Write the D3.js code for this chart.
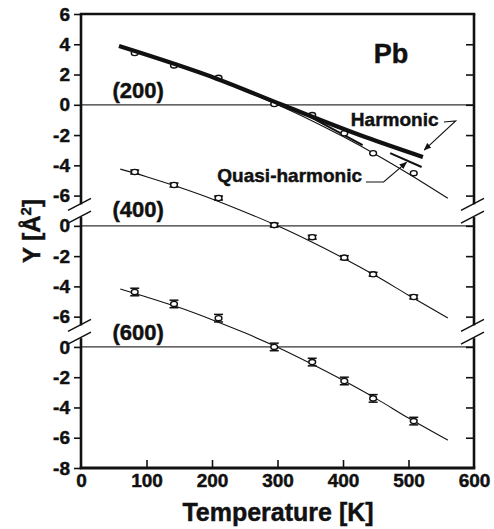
<!DOCTYPE html>
<html>
<head>
<meta charset="utf-8">
<script src="https://cdn.jsdelivr.net/npm/d3@7"></script>
<style>
  body { margin: 0; background: #fff; }
  svg { display: block; }
  text { font-family: "Liberation Sans", Arial, sans-serif; font-weight: bold; fill: #111; stroke: #111; stroke-width: 0.45px; }
</style>
</head>
<body>
<div id="chart"></div>
<script>
// temperatures of the measured points
var tempPoints = [82, 142, 210, 295, 353, 402, 446, 508];

// measured Y values, one array per reflection
var y200 = [3.42, 2.6, 1.78, 0.05, -0.68, -1.88, -3.2, -4.52];
var y400 = [3.56, 2.7, 1.84, 0.05, -0.75, -2.1, -3.2, -4.7];
var y600 = [3.63, 2.84, 1.9, 0.0, -1.0, -2.25, -3.4, -4.9];

// error bar half widths
var err200 = 0.06;
var err400 = 0.13;
var err600 = 0.25;

// fitted curves through the points
var fitTemps = [60, 100, 150, 200, 250, 300, 350, 400, 450, 500, 560];
var fit200 = [3.85, 3.32, 2.6, 1.8, 0.93, 0.0, -1.0, -2.1, -3.28, -4.55, -6.17];
var fit400 = [3.75, 3.25, 2.55, 1.78, 0.92, 0.0, -1.02, -2.12, -3.3, -4.58, -6.09];
var fit600 = [3.83, 3.3, 2.6, 1.8, 0.93, -0.02, -1.08, -2.2, -3.4, -4.7, -6.16];

// harmonic calculation (thick line)
var harmTemps = [58, 208, 307, 434, 522];
var harmVals = [3.88, 1.71, 0.0, -2.13, -3.45];

// quasi-harmonic calculation, visible parts
var quasiA = [[350, -0.79], [430, -2.66]];
var quasiB = [[472, -3.19], [520, -4.11]];

var panelLabels = ['(200)', '(400)', '(600)'];
var xTicks = [0, 100, 200, 300, 400, 500, 600];

var width = 494, height = 529;
var offset = 8;   // each panel is shifted down by 8 units

var svg = d3.select('#chart').append('svg')
  .attr('width', width)
  .attr('height', height);

var x = d3.scaleLinear().domain([0, 600]).range([81, 474]);
var y = d3.scaleLinear().domain([6, -24]).range([14, 468]);

// panel value -> y pixel
function py(panel, v) { return y(v - offset * panel); }

var line = d3.line().curve(d3.curveMonotoneX);

// zero lines
[0, 1, 2].forEach(function(p) {
  svg.append('line')
    .attr('x1', x(0)).attr('x2', x(600))
    .attr('y1', py(p, 0)).attr('y2', py(p, 0))
    .attr('stroke', '#333').attr('stroke-width', 1.3);
});

// left axis ticks and labels
var leftTicks = [6, 4, 2, 0, -2, -4, -6, -8, -10, -12, -14, -16, -18, -20, -22, -24];
var yAxis = d3.axisLeft(y)
  .tickValues(leftTicks)
  .tickSize(7)
  .tickPadding(4)
  .tickFormat(function(v) {
    if (v > -7) return String(v);
    if (v > -15) return String(v + 8);
    return String(v + 16);
  });

var gy = svg.append('g')
  .attr('transform', 'translate(' + x(0) + ',0)')
  .call(yAxis);
gy.select('.domain').remove();
gy.selectAll('.tick line').attr('stroke', '#111').attr('stroke-width', 1.6);
gy.selectAll('.tick text').style('font-size', '19px').attr('fill', '#111');

// right axis ticks, inward
var gr = svg.append('g')
  .attr('transform', 'translate(' + x(600) + ',0)')
  .call(d3.axisLeft(y).tickValues(leftTicks.slice(1, -1)).tickSize(-0).tickFormat(''));
gr.select('.domain').remove();
gr.selectAll('.tick line').attr('x2', -8).attr('stroke', '#111').attr('stroke-width', 1.6);

// bottom axis
var gx = svg.append('g')
  .attr('transform', 'translate(0,' + y(-24) + ')')
  .call(d3.axisBottom(x).tickValues(xTicks).tickSize(0).tickPadding(6));
gx.select('.domain').remove();
gx.selectAll('.tick line')
  .attr('y2', function(d) { return (d === 0 || d === 600) ? 0 : -8; })
  .attr('stroke', '#111').attr('stroke-width', 1.6);
gx.selectAll('.tick text').style('font-size', '19px').attr('fill', '#111');

// frame with breaks on both sides
var breaks = [-7, -15];
var gap = 0.42;
function sideSegments() {
  return [[6, breaks[0] + gap], [breaks[0] - gap, breaks[1] + gap], [breaks[1] - gap, -24]];
}
[x(0), x(600)].forEach(function(xx) {
  sideSegments().forEach(function(s) {
    svg.append('line')
      .attr('x1', xx).attr('x2', xx)
      .attr('y1', y(s[0])).attr('y2', y(s[1]))
      .attr('stroke', '#111').attr('stroke-width', 2.6);
  });
  breaks.forEach(function(b) {
    [b + gap, b - gap].forEach(function(v) {
      svg.append('line')
        .attr('x1', xx - 13).attr('y1', y(v) + 6)
        .attr('x2', xx + 10).attr('y2', y(v) - 6)
        .attr('stroke', '#111').attr('stroke-width', 1.5);
    });
  });
});
svg.append('line')
  .attr('x1', x(0) - 1.3).attr('x2', x(600) + 1.3)
  .attr('y1', y(6)).attr('y2', y(6))
  .attr('stroke', '#111').attr('stroke-width', 2.4);
svg.append('line')
  .attr('x1', x(0) - 1.3).attr('x2', x(600) + 1.3)
  .attr('y1', y(-24)).attr('y2', y(-24))
  .attr('stroke', '#111').attr('stroke-width', 2.8);

// fitted curves
[fit200, fit400, fit600].forEach(function(f, p) {
  svg.append('path')
    .attr('d', line(fitTemps.map(function(t, i) { return [x(t), py(p, f[i])]; })))
    .attr('fill', 'none').attr('stroke', '#111').attr('stroke-width', 1.1);
});

// quasi-harmonic segments
[quasiA, quasiB].forEach(function(seg) {
  svg.append('path')
    .attr('d', d3.line()(seg.map(function(d) { return [x(d[0]), py(0, d[1])]; })))
    .attr('fill', 'none').attr('stroke', '#111').attr('stroke-width', 2);
});

// data points with error bars
[[y200, err200], [y400, err400], [y600, err600]].forEach(function(set, p) {
  var g = svg.append('g');
  tempPoints.forEach(function(t, i) {
    var v = set[0][i], e = set[1];
    var cx = x(t);
    g.append('line')
      .attr('x1', cx).attr('x2', cx)
      .attr('y1', py(p, v + e)).attr('y2', py(p, v - e))
      .attr('stroke', '#111').attr('stroke-width', 1.3);
    if (p > 0) {
      [v + e, v - e].forEach(function(c) {
        g.append('line')
          .attr('x1', cx - 4.5).attr('x2', cx + 4.5)
          .attr('y1', py(p, c)).attr('y2', py(p, c))
          .attr('stroke', '#111').attr('stroke-width', 1.5);
      });
    }
    g.append('ellipse')
      .attr('cx', cx).attr('cy', py(p, v))
      .attr('rx', 3.4).attr('ry', 2.6)
      .attr('fill', '#fff').attr('stroke', '#111').attr('stroke-width', 1.4);
  });
});

// harmonic thick line
svg.append('path')
  .attr('d', line(harmTemps.map(function(t, i) { return [x(t), py(0, harmVals[i])]; })))
  .attr('fill', 'none').attr('stroke', '#111').attr('stroke-width', 4.2);

// panel labels
var labelVals = [0.45, 0.58, 0.45];
panelLabels.forEach(function(lab, p) {
  svg.append('text')
    .attr('x', x(48)).attr('y', py(p, labelVals[p]))
    .style('font-size', '22px')
    .text(lab);
});

svg.append('text')
  .attr('x', x(447)).attr('y', py(0, 2.76))
  .style('font-size', '27px')
  .text('Pb');

// annotations
svg.append('text')
  .attr('x', x(412)).attr('y', py(0, -1.4))
  .style('font-size', '19px')
  .text('Harmonic');
svg.append('text')
  .attr('x', x(429)).attr('y', py(0, -5.12))
  .attr('text-anchor', 'end')
  .style('font-size', '19px')
  .text('Quasi-harmonic');

svg.append('defs').append('marker')
  .attr('id', 'arrow')
  .attr('viewBox', '0 0 10 10')
  .attr('refX', 9).attr('refY', 5)
  .attr('markerWidth', 7).attr('markerHeight', 7)
  .attr('orient', 'auto')
  .append('path')
  .attr('d', 'M0,1 L10,5 L0,9 Z')
  .attr('fill', '#111');

var harmLeader = [[554, -1.14], [572, -1.07], [524, -2.99]];
var quasiLeader = [[435, -5.1], [462, -5.1], [497, -3.8]];
[harmLeader, quasiLeader].forEach(function(l) {
  svg.append('path')
    .attr('d', d3.line()(l.map(function(d) { return [x(d[0]), py(0, d[1])]; })))
    .attr('fill', 'none').attr('stroke', '#111').attr('stroke-width', 1.1)
    .attr('marker-end', 'url(#arrow)');
});

// axis titles
svg.append('text')
  .attr('x', 278).attr('y', 521)
  .attr('text-anchor', 'middle')
  .style('font-size', '25px')
  .text('Temperature [K]');

var yt = svg.append('text')
  .attr('transform', 'translate(40,231) rotate(-90)')
  .attr('text-anchor', 'middle')
  .style('font-size', '24px');
yt.append('tspan').text('Y [Å');
yt.append('tspan').attr('dy', -9).style('font-size', '15px').text('2');
yt.append('tspan').attr('dy', 9).text(']');
</script>
</body>
</html>
